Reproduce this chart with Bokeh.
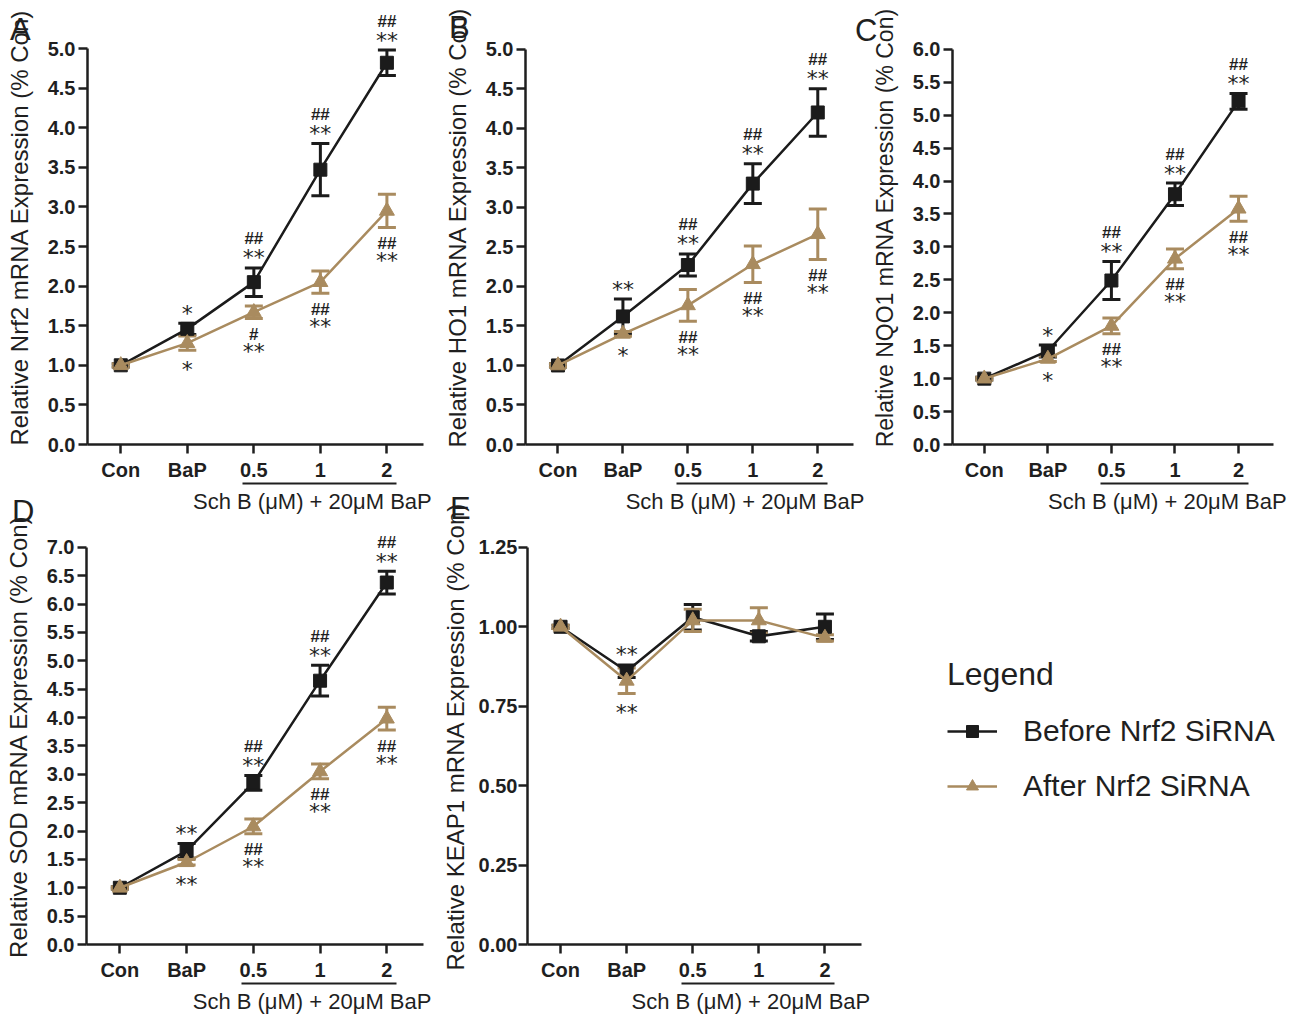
from bokeh.plotting import figure
from bokeh.models import (ColumnDataSource, Whisker, TeeHead, FixedTicker, LinearAxis,
                          Range1d, Legend, LegendItem, NumeralTickFormatter, Div)
from bokeh.layouts import row, column
from bokeh.embed import file_html
from bokeh.resources import INLINE
from bokeh.core.properties import value

# ---------------- data ----------------
categories = ["Con", "BaP", "0.5", "1", "2"]
group_label = "Sch B (μM) + 20μM BaP"
series_names = ["Before Nrf2 SiRNA", "After Nrf2 SiRNA"]

# A: Nrf2
a_before = [1.00, 1.46, 2.05, 3.47, 4.82]
a_before_err = [0.02, 0.07, 0.18, 0.33, 0.16]
a_after = [1.00, 1.28, 1.67, 2.05, 2.95]
a_after_err = [0.02, 0.09, 0.08, 0.14, 0.21]
a_before_stars = ["", "*", "**", "**", "**"]
a_before_hash = ["", "", "##", "##", "##"]
a_after_stars = ["", "*", "**", "**", "**"]
a_after_hash = ["", "", "#", "##", "##"]

# B: HO1
b_before = [1.00, 1.62, 2.27, 3.30, 4.20]
b_before_err = [0.02, 0.22, 0.14, 0.25, 0.30]
b_after = [1.00, 1.40, 1.76, 2.28, 2.66]
b_after_err = [0.02, 0.03, 0.20, 0.23, 0.32]
b_before_stars = ["", "**", "**", "**", "**"]
b_before_hash = ["", "", "##", "##", "##"]
b_after_stars = ["", "*", "**", "**", "**"]
b_after_hash = ["", "", "##", "##", "##"]

# C: NQO1
c_before = [1.00, 1.42, 2.49, 3.80, 5.21]
c_before_err = [0.02, 0.09, 0.29, 0.17, 0.12]
c_after = [1.00, 1.30, 1.80, 2.82, 3.58]
c_after_err = [0.02, 0.04, 0.12, 0.15, 0.19]
c_before_stars = ["", "*", "**", "**", "**"]
c_before_hash = ["", "", "##", "##", "##"]
c_after_stars = ["", "*", "**", "**", "**"]
c_after_hash = ["", "", "##", "##", "##"]

# D: SOD
d_before = [1.00, 1.65, 2.85, 4.65, 6.38]
d_before_err = [0.02, 0.13, 0.13, 0.27, 0.20]
d_after = [1.00, 1.45, 2.08, 3.05, 3.98]
d_after_err = [0.02, 0.05, 0.13, 0.13, 0.20]
d_before_stars = ["", "**", "**", "**", "**"]
d_before_hash = ["", "", "##", "##", "##"]
d_after_stars = ["", "**", "**", "**", "**"]
d_after_hash = ["", "", "##", "##", "##"]

# E: KEAP1
e_before = [1.00, 0.86, 1.03, 0.97, 1.00]
e_before_err = [0.005, 0.02, 0.04, 0.015, 0.04]
e_after = [1.00, 0.83, 1.02, 1.02, 0.965]
e_after_err = [0.005, 0.04, 0.035, 0.04, 0.01]
e_before_stars = ["", "**", "", "", ""]
e_before_hash = ["", "", "", "", ""]
e_after_stars = ["", "**", "", "", ""]
e_after_hash = ["", "", "", "", ""]

ticks_5 = [0.0, 0.5, 1.0, 1.5, 2.0, 2.5, 3.0, 3.5, 4.0, 4.5, 5.0]
ticks_6 = [0.0, 0.5, 1.0, 1.5, 2.0, 2.5, 3.0, 3.5, 4.0, 4.5, 5.0, 5.5, 6.0]
ticks_7 = [0.0, 0.5, 1.0, 1.5, 2.0, 2.5, 3.0, 3.5, 4.0, 4.5, 5.0, 5.5, 6.0, 6.5, 7.0]
ticks_e = [0.0, 0.25, 0.5, 0.75, 1.0, 1.25]

# ---------------- style / layout ----------------
BLACK = "#1b1b1b"
TAN = "#a98b5f"
TXT = "#1f1f1f"
FONT = "Liberation Sans"
SERIES_STYLE = [(BLACK, "square", 13), (TAN, "triangle", 15)]
X_START, X_END = -0.5, 4.55  # category axis extent
GROUP_SPAN = (1.83, 4.15)    # underline extent, in category units
GROUP_TEXT_X = 2.88          # centre of the group caption, in category units


def letter_div(letter, top, left, width):
    html = ('<div style="font-family:\'Liberation Sans\',Arial,sans-serif;font-size:31px;'
            'line-height:31px;color:%s;white-space:nowrap;">%s</div>' % (TXT, letter))
    return Div(text=html, width=width, height=40, margin=(top, 0, 0, left))


def panel(ylabel, yticks, fmt, before, before_err, after, after_err,
          b_stars, b_hash, a_stars, a_hash, *, left, right, top, top_gap, plot_px,
          bottom, frame_px, extra_px=0, ylab_standoff=12, ytick_standoff=3,
          ylab_size="24px", margin=None):
    xs = list(range(len(categories)))
    ymax = yticks[-1]
    # frame reaches top_gap px above the top tick so marks above it stay visible
    y_end = ymax + top_gap * (ymax - yticks[0]) / plot_px
    # frame may reach extra_px to the right of the axis end (room for a legend)
    x_end = X_END + extra_px * (X_END - X_START) / frame_px
    p = figure(width=left + frame_px + extra_px + right,
               height=top + top_gap + plot_px + bottom,
               min_border_left=left, min_border_right=right,
               min_border_top=top, min_border_bottom=bottom,
               x_range=Range1d(X_START, x_end), y_range=Range1d(yticks[0], y_end),
               output_backend="svg", toolbar_location=None,
               background_fill_color=None, border_fill_color=None,
               outline_line_color=None)
    if margin is not None:
        p.margin = margin
    p.xgrid.visible = False
    p.ygrid.visible = False

    rends = []
    for (vals, errs), (color, marker, msize) in zip(((before, before_err), (after, after_err)),
                                                     SERIES_STYLE):
        src = ColumnDataSource(dict(
            x=xs, y=vals,
            upper=[v + e for v, e in zip(vals, errs)],
            lower=[v - e for v, e in zip(vals, errs)]))
        p.add_layout(Whisker(source=src, base="x", upper="upper", lower="lower",
                             line_color=color, line_width=3,
                             upper_head=TeeHead(size=18, line_width=3, line_color=color),
                             lower_head=TeeHead(size=18, line_width=3, line_color=color)))
        ln = p.line("x", "y", source=src, line_color=color, line_width=2.5)
        sc = p.scatter("x", "y", source=src, marker=marker, size=msize,
                       fill_color=color, line_color=color)
        rends.append([ln, sc])

    # significance marks: before series above its bars, after series below its bars
    up_b = [v + e for v, e in zip(before, before_err)]
    lo_a = [v - e for v, e in zip(after, after_err)]
    src_b = ColumnDataSource(dict(x=xs, y=up_b, stars=b_stars, hashes=b_hash))
    src_a = ColumnDataSource(dict(x=xs, y=lo_a, stars=a_stars, hashes=a_hash,
                                  soff=[33 if h else 19 for h in a_hash]))
    star_kw = dict(text_font=value("DejaVu Sans"), text_font_size="22px",
                   text_align="center", text_baseline="alphabetic", text_color=TXT)
    hash_kw = dict(text_font=value(FONT), text_font_style="bold", text_font_size="17px",
                   text_align="center", text_baseline="alphabetic", text_color=TXT)
    p.text("x", "y", text="stars", source=src_b, y_offset=-10, **star_kw)
    p.text("x", "y", text="hashes", source=src_b, y_offset=-29, **hash_kw)
    p.text("x", "y", text="hashes", source=src_a, y_offset=16, **hash_kw)
    p.text("x", "y", text="stars", source=src_a, y_offset="soff", **star_kw)

    # axes
    xa = p.xaxis[0]
    ya = p.yaxis[0]
    xa.ticker = FixedTicker(ticks=xs)
    xa.major_label_overrides = {i: c for i, c in enumerate(categories)}
    xa.bounds = (X_START, X_END)
    ya.ticker = FixedTicker(ticks=yticks)
    ya.formatter = NumeralTickFormatter(format=fmt)
    ya.bounds = (yticks[0], ymax)
    for ax in (xa, ya):
        ax.axis_line_width = 2.5
        ax.axis_line_color = TXT
        ax.major_tick_line_width = 2.5
        ax.major_tick_line_color = TXT
        ax.major_tick_out = 9
        ax.major_tick_in = 0
        ax.minor_tick_line_color = None
        ax.major_label_text_font = FONT
        ax.major_label_text_font_style = "bold"
        ax.major_label_text_font_size = "20px"
        ax.major_label_text_color = TXT
    xa.major_label_standoff = 5
    ya.major_label_standoff = ytick_standoff
    ya.axis_label = ylabel
    ya.axis_label_text_font = FONT
    ya.axis_label_text_font_style = "normal"
    ya.axis_label_text_font_size = ylab_size
    ya.axis_label_text_color = TXT
    ya.axis_label_standoff = ylab_standoff

    # group underline with its caption (caption carried as the single tick label)
    grp = LinearAxis(ticker=FixedTicker(ticks=[GROUP_TEXT_X]), bounds=GROUP_SPAN,
                     major_label_overrides={GROUP_TEXT_X: group_label},
                     axis_line_width=2, axis_line_color=TXT,
                     major_tick_out=0, major_tick_in=0, major_tick_line_color=None,
                     minor_tick_line_color=None, major_label_standoff=5,
                     major_label_text_font=FONT, major_label_text_font_style="normal",
                     major_label_text_font_size="22px", major_label_text_color=TXT)
    p.add_layout(grp, "below")
    return p, rends


# all panels of one row share the same top border (Bokeh aligns frames in a row)
pa, _ = panel("Relative Nrf2 mRNA Expression (% Con)", ticks_5, "0.0",
              a_before, a_before_err, a_after, a_after_err,
              a_before_stars, a_before_hash, a_after_stars, a_after_hash,
              left=87, right=17, top=10, top_gap=38, plot_px=396, bottom=76, frame_px=336,
              margin=(0, 0, 0, -40))
pb, _ = panel("Relative HO1 mRNA Expression (% Con)", ticks_5, "0.0",
              b_before, b_before_err, b_after, b_after_err,
              b_before_stars, b_before_hash, b_after_stars, b_after_hash,
              left=82, right=27, top=10, top_gap=39, plot_px=398, bottom=73, frame_px=331,
              margin=(0, 0, 0, -40))
pc, _ = panel("Relative NQO1 mRNA Expression (% Con)", ticks_6, "0.0",
              c_before, c_before_err, c_after, c_after_err,
              c_before_stars, c_before_hash, c_after_stars, c_after_hash,
              left=102, right=20, top=10, top_gap=39, plot_px=397, bottom=74, frame_px=321,
              ylab_size="23px", margin=(0, 0, 0, -30))
pd, _ = panel("Relative SOD mRNA Expression (% Con)", ticks_7, "0.0",
              d_before, d_before_err, d_after, d_after_err,
              d_before_stars, d_before_hash, d_after_stars, d_after_hash,
              left=86, right=15, top=40, top_gap=19, plot_px=400, bottom=69, frame_px=337,
              margin=(0, 0, 0, -40))
pe, rs = panel("Relative KEAP1 mRNA Expression (% Con)", ticks_e, "0.00",
               e_before, e_before_err, e_after, e_after_err,
               e_before_stars, e_before_hash, e_after_stars, e_after_hash,
               left=84, right=10, top=40, top_gap=19, plot_px=400, bottom=69, frame_px=336,
               extra_px=425, ylab_standoff=7, ytick_standoff=1, margin=(0, 0, 0, -40))

legend = Legend(items=[LegendItem(label=series_names[0], renderers=rs[0]),
                       LegendItem(label=series_names[1], renderers=rs[1])],
                location=(420, 141), title="Legend",
                title_text_font=FONT, title_text_font_style="normal",
                title_text_font_size="32px", title_text_color=TXT, title_standoff=21,
                label_text_font=FONT, label_text_font_size="30px", label_text_color=TXT,
                glyph_width=50, glyph_height=30, label_height=30, label_standoff=26,
                spacing=21, padding=0, margin=0, border_line_color=None,
                background_fill_alpha=0)
pe.add_layout(legend)

la = letter_div("A", 14, 10, 30)
lb = letter_div("B", 12, 9, 31)
lc = letter_div("C", 15, -25, 25)
ld = letter_div("D", 8, 12, 28)
le = letter_div("E", 5, 12, 28)

layout = column(row(la, pa, lb, pb, lc, pc),
                row(ld, pd, le, pe, margin=(-32, 0, 0, 0)))

open("out.html", "w").write(file_html(layout, INLINE))
